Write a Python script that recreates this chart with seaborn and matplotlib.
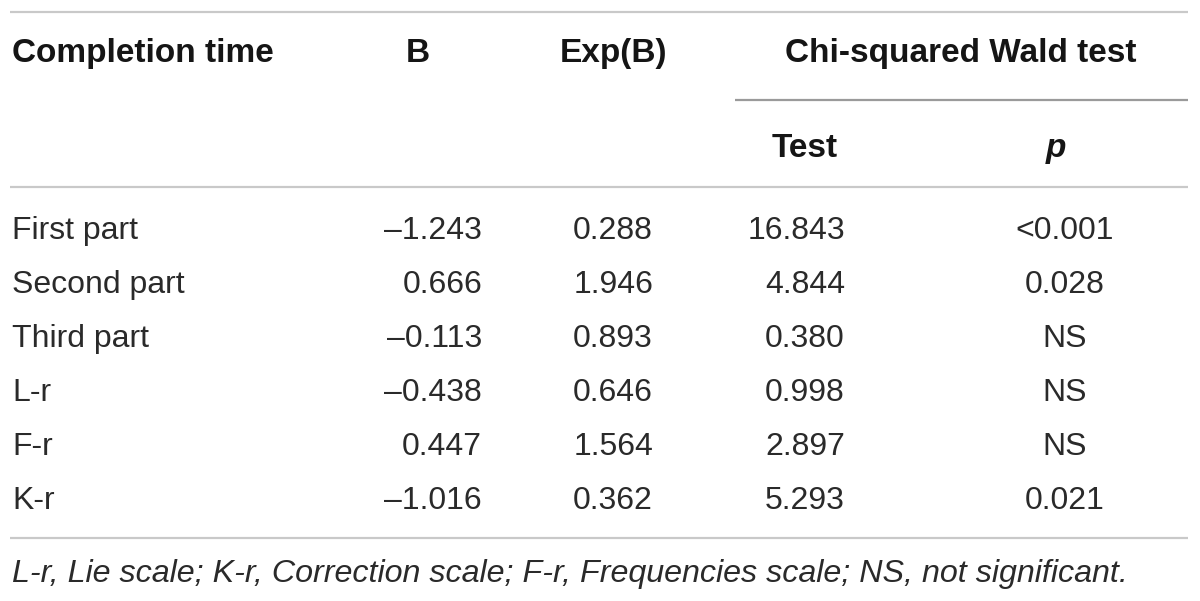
import matplotlib.pyplot as plt
import seaborn as sns

# table contents
row_labels = ["First part", "Second part", "Third part", "L-r", "F-r", "K-r"]
b_values = ["\u20131.243", "0.666", "\u20130.113", "\u20130.438", "0.447", "\u20131.016"]
exp_b_values = ["0.288", "1.946", "0.893", "0.646", "1.564", "0.362"]
test_values = ["16.843", "4.844", "0.380", "0.998", "2.897", "5.293"]
p_values = ["<0.001", "0.028", "NS", "NS", "NS", "0.021"]
footnote = "L-r, Lie scale; K-r, Correction scale; F-r, Frequencies scale; NS, not significant."


def main():
    sns.set_theme(style="white")
    plt.rcParams["font.family"] = ["Liberation Sans", "DejaVu Sans"]

    fig = plt.figure(figsize=(12, 6.01), dpi=100)
    ax = fig.add_axes([0, 0, 1, 1])
    ax.set_xlim(0, 1200)
    ax.set_ylim(601, 0)
    ax.axis("off")

    rule = "#c9c9c9"
    head = "#151515"
    body = "#2a2a2a"

    # rules
    ax.hlines([12, 187, 538], 10, 1188, color=rule, lw=1.6)
    ax.hlines(100, 735, 1188, color="#9a9a9a", lw=1.6)

    # header
    hs = dict(fontsize=24, fontweight="bold", color=head, va="baseline")
    ax.text(12, 62, "Completion time", ha="left", **hs)
    ax.text(418, 62, "B", ha="center", **hs)
    ax.text(614, 62, "Exp(B)", ha="center", **hs)
    ax.text(961, 62, "Chi-squared Wald test", ha="center", **hs)
    ax.text(805, 157, "Test", ha="center", **hs)
    ax.text(1056, 157, "p", ha="center", style="italic", **hs)

    # body rows
    bs = dict(fontsize=23, color=body, va="baseline")
    for i, label in enumerate(row_labels):
        y = 239 + i * 54
        ax.text(12, y, label, ha="left", **bs)
        ax.text(482, y, b_values[i], ha="right", **bs)
        ax.text(653, y, exp_b_values[i], ha="right", **bs)
        ax.text(845, y, test_values[i], ha="right", **bs)
        ax.text(1065, y, p_values[i], ha="center", **bs)

    ax.text(12, 582, footnote, ha="left", va="baseline", fontsize=23.25,
            style="italic", color=body)

    fig.savefig("out.png", dpi=100)


if __name__ == "__main__":
    main()
